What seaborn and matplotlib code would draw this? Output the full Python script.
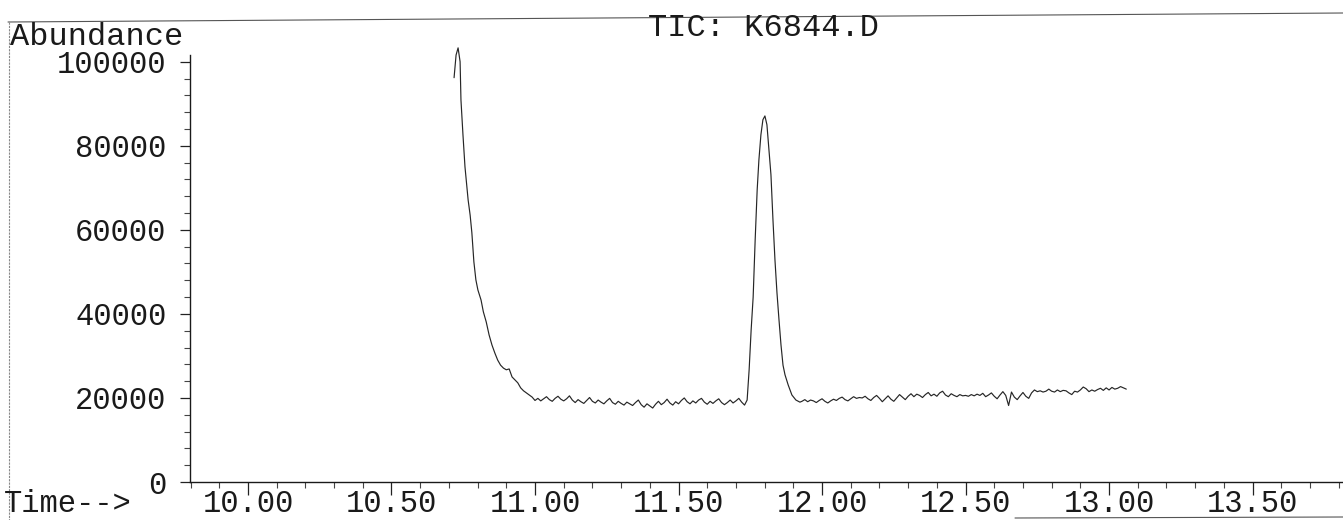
import numpy as np
import pandas as pd
import matplotlib
matplotlib.use("Agg")
import matplotlib.pyplot as plt
import seaborn as sns
from matplotlib.ticker import MultipleLocator, FixedLocator, FormatStrFormatter
from matplotlib.lines import Line2D

# ---------------- data ----------------
title = "TIC: K6844.D"
y_label = "Abundance"
x_label = "Time-->"
x_major_ticks = [10.0, 10.5, 11.0, 11.5, 12.0, 12.5, 13.0, 13.5]
y_major_ticks = [0, 20000, 40000, 60000, 80000, 100000]

# first peak (minutes, abundance)
peak1_time = [10.718, 10.725, 10.732, 10.739, 10.742, 10.749, 10.756, 10.767,
              10.774, 10.780, 10.787, 10.794, 10.801, 10.812]
peak1_abund = [96200, 101600, 103300, 100000, 90900, 82600, 75000, 67100,
               63500, 59300, 52400, 48100, 45700, 43300]

# tail of first peak
tail_time = [10.82, 10.83, 10.84, 10.85, 10.86, 10.87, 10.88, 10.89, 10.90,
             10.91, 10.92, 10.93, 10.94, 10.95, 10.96, 10.97, 10.98, 10.99]
tail_abund = [40500, 38100, 35000, 32600, 30700, 29000, 27800, 27100, 26700,
              26900, 25000, 24300, 23600, 22400, 21700, 21200, 20700, 20200]

# baseline between the peaks
baseA_time = [11.00, 11.01, 11.02, 11.03, 11.04, 11.05, 11.06, 11.07, 11.08, 11.09,
              11.10, 11.11, 11.12, 11.13, 11.14, 11.15, 11.16, 11.17, 11.18, 11.19,
              11.20, 11.21, 11.22, 11.23, 11.24, 11.25, 11.26, 11.27, 11.28, 11.29,
              11.30, 11.31, 11.32, 11.33, 11.34, 11.35, 11.36, 11.37, 11.38, 11.39,
              11.40, 11.41, 11.42, 11.43, 11.44, 11.45, 11.46, 11.47, 11.48, 11.49,
              11.50, 11.51, 11.52, 11.53, 11.54, 11.55, 11.56, 11.57, 11.58, 11.59,
              11.60, 11.61, 11.62, 11.63, 11.64, 11.65, 11.66, 11.67, 11.68, 11.69,
              11.70, 11.71, 11.72, 11.73]
baseA_abund = [19400, 19900, 19300, 19800, 20300, 19600, 19200, 19900, 20400, 19700,
               19300, 19800, 20500, 19500, 18900, 19600, 19100, 18700, 19400, 20100,
               19200, 18800, 19500, 19000, 18600, 19300, 19900, 18900, 18500, 19200,
               18700, 18300, 19000, 18600, 18200, 18900, 19500, 18400, 17800, 18600,
               18100, 17600, 18500, 19200, 18400, 18900, 19700, 18800, 18300, 19100,
               18600, 19400, 20000, 19100, 18600, 19300, 18800, 19500, 19900, 19000,
               18500, 19200, 18700, 19300, 19800, 18900, 18400, 18900, 19500, 18800,
               19300, 19900, 19000, 18300]

# second peak
peak2_time = [11.739, 11.746, 11.753, 11.760, 11.767, 11.774, 11.780, 11.787,
              11.794, 11.801, 11.808, 11.815, 11.822, 11.829, 11.836, 11.843,
              11.850, 11.857, 11.864, 11.871, 11.882, 11.895, 11.909, 11.923]
peak2_abund = [19500, 26700, 36200, 44000, 57600, 69500, 76600, 82600,
               86200, 87100, 85000, 79000, 73100, 62400, 52800, 45000,
               38600, 32600, 27800, 25500, 23100, 20700, 19500, 19000]

# baseline after the second peak
baseB_time = [11.93, 11.94, 11.95, 11.96, 11.97, 11.98, 11.99,
              12.00, 12.01, 12.02, 12.03, 12.04, 12.05, 12.06, 12.07, 12.08, 12.09,
              12.10, 12.11, 12.12, 12.13, 12.14, 12.15, 12.16, 12.17, 12.18, 12.19,
              12.20, 12.21, 12.22, 12.23, 12.24, 12.25, 12.26, 12.27, 12.28, 12.29,
              12.30, 12.31, 12.32, 12.33, 12.34, 12.35, 12.36, 12.37, 12.38, 12.39,
              12.40, 12.41, 12.42, 12.43, 12.44, 12.45, 12.46, 12.47, 12.48, 12.49,
              12.50, 12.51, 12.52, 12.53, 12.54, 12.55, 12.56, 12.57, 12.58, 12.59,
              12.60, 12.61, 12.62, 12.63, 12.64, 12.65, 12.66, 12.67, 12.68, 12.69,
              12.70, 12.71, 12.72, 12.73, 12.74, 12.75, 12.76, 12.77, 12.78, 12.79,
              12.80, 12.81, 12.82, 12.83, 12.84, 12.85, 12.86, 12.87, 12.88, 12.89,
              12.90, 12.91, 12.92, 12.93, 12.94, 12.95, 12.96, 12.97, 12.98, 12.99,
              13.00, 13.01, 13.02, 13.03, 13.04, 13.05, 13.06]
baseB_abund = [19200, 19600, 19100, 19500, 19300, 18900, 19400,
               19800, 19200, 18800, 19300, 19700, 19400, 19900, 20200, 19600, 19300,
               19800, 20300, 19900, 20100, 20000, 20400, 19800, 19400, 20100, 20600,
               19900, 19100, 19800, 20500, 19700, 19200, 20000, 20800, 20200, 19600,
               20400, 21000, 20300, 20900, 20600, 20100, 20800, 21300, 20500, 20900,
               20400, 21200, 21600, 20700, 20300, 21000, 20600, 20300, 20800, 20500,
               20600, 20400, 20800, 20500, 20900, 20600, 21100, 20300, 20700, 21200,
               20400, 19800, 20700, 21500, 20600, 18200, 21400, 20200, 19600, 20500,
               21300, 20400, 19900, 21200, 21900, 21500, 21700, 21400, 21600, 22100,
               21600, 21400, 21900, 21500, 21800, 21700, 21200, 20800, 21600, 21400,
               21900, 22600, 22200, 21500, 21900, 21600, 22000, 22300, 21800, 22400,
               21900, 22500, 22100, 22300, 22700, 22400, 22100]

time_min = peak1_time + tail_time + baseA_time + peak2_time + baseB_time
abundance = peak1_abund + tail_abund + baseA_abund + peak2_abund + baseB_abund
df = pd.DataFrame({"time": time_min, "abundance": abundance})

# ---------------- drawing ----------------
sns.set_theme(style="white")
plt.rcParams["font.family"] = ["Liberation Mono", "DejaVu Sans"]

W, H = 1343, 520
fig = plt.figure(figsize=(W / 100, H / 100), dpi=100)
fig.patch.set_facecolor("white")

ax_left, ax_bottom, ax_top = 190, 482, 55
ax = fig.add_axes([ax_left / W, (H - ax_bottom) / H, (W - ax_left) / W, (ax_bottom - ax_top) / H])
ax.set_facecolor("white")

sns.lineplot(data=df, x="time", y="abundance", ax=ax, color="#262626",
             linewidth=0.85, estimator=None, sort=False, clip_on=False)

ax.set_xlim(9.798, 13.815)
ax.set_ylim(0, 101600)

for s in ("top", "right"):
    ax.spines[s].set_visible(False)
for s in ("left", "bottom"):
    ax.spines[s].set_color("#1a1a1a")
    ax.spines[s].set_linewidth(1.0)

ax.xaxis.set_major_locator(FixedLocator(x_major_ticks))
ax.xaxis.set_minor_locator(MultipleLocator(0.1))
ax.xaxis.set_major_formatter(FormatStrFormatter("%.2f"))
ax.yaxis.set_major_locator(FixedLocator(y_major_ticks))
ax.yaxis.set_minor_locator(MultipleLocator(4000))
ax.yaxis.set_major_formatter(FormatStrFormatter("%d"))

txt_color = "#1a1a1a"
ax.tick_params(axis="x", which="major", bottom=True, direction="out", length=9,
               width=0.9, color="#222222", pad=-4, labelsize=22, labelcolor=txt_color)
ax.tick_params(axis="x", which="minor", bottom=True, direction="out", length=4,
               width=0.8, color="#444444")
ax.tick_params(axis="y", which="major", left=True, direction="out", length=7,
               width=0.9, color="#222222", pad=10, labelsize=22, labelcolor=txt_color)
ax.tick_params(axis="y", which="minor", left=True, direction="out", length=4,
               width=0.8, color="#444444")
ax.set_xlabel("")
ax.set_ylabel("")
ax.grid(False)

fig.text(10 / W, 1 - 45 / H, y_label, fontsize=23, ha="left", va="baseline", color=txt_color)
fig.text(648 / W, 1 - 36 / H, title, fontsize=23, ha="left", va="baseline", color=txt_color)
fig.text(4 / W, 1 - 512 / H, x_label, fontsize=22, ha="left", va="baseline", color=txt_color)

# scanned page border
fig.add_artist(Line2D([8 / W, 1.0], [1 - 22 / H, 1 - 13 / H], color="#555555", lw=0.8))
fig.add_artist(Line2D([9 / W, 9 / W], [1 - 22 / H, 0.0], color="#888888", lw=0.8, ls=(0, (2, 1))))
fig.add_artist(Line2D([1015 / W, 1.0], [1 - 518 / H, 1 - 517 / H], color="#555555", lw=0.8))

fig.savefig("out.png", dpi=100, facecolor="white")
